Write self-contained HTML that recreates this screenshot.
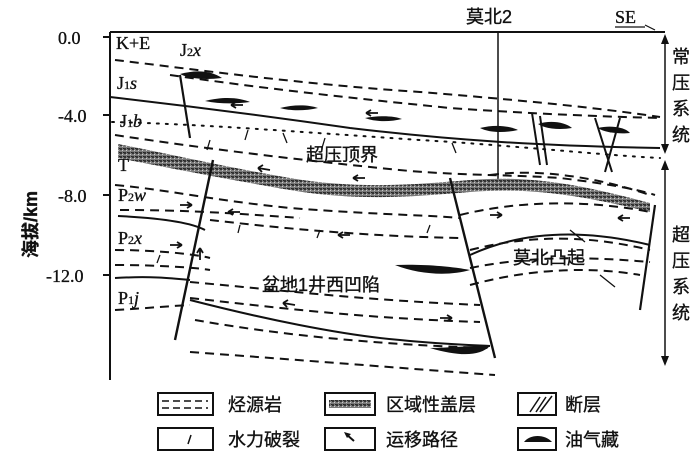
<!DOCTYPE html>
<html><head><meta charset="utf-8"><style>
html,body{margin:0;padding:0;background:#fff;}
svg{display:block;}
text{font-family:"Liberation Serif","Noto Serif CJK SC",serif;fill:#111;stroke:#111;stroke-width:0.35;}
.cj{font-family:"Liberation Sans","Noto Sans CJK SC",sans-serif;}
</style></head><body>
<svg width="700" height="469" viewBox="0 0 700 469" xmlns="http://www.w3.org/2000/svg">
<defs>
<pattern id="gr" width="4" height="4" patternUnits="userSpaceOnUse">
<rect width="4" height="4" fill="#7a7a7a"/><rect width="2" height="2" fill="#333"/><rect x="2" y="2" width="1" height="1" fill="#ccc"/><rect x="3" y="0" width="1" height="1" fill="#222"/>
</pattern>
</defs>
<g stroke="#111" fill="none" stroke-width="2">
<line x1="110" y1="32" x2="665" y2="32"/>
<line x1="110" y1="32" x2="110" y2="380"/>
<line x1="103" y1="37" x2="110" y2="37"/>
<line x1="103" y1="115" x2="110" y2="115"/>
<line x1="103" y1="195" x2="110" y2="195"/>
<line x1="103" y1="275" x2="110" y2="275"/>
<line x1="498" y1="32" x2="498" y2="180" stroke-width="1.5"/>
<line x1="665" y1="38" x2="665" y2="150" stroke-width="1.5"/>
<line x1="665" y1="165" x2="665" y2="360" stroke-width="1.5"/>
</g>
<g fill="#111">
<polygon points="665,34 661,44 669,44"/><polygon points="665,154 661,144 669,144"/>
<polygon points="665,160 661,170 669,170"/><polygon points="665,366 661,356 669,356"/>
</g>
<path d="M118,144 C170,154 220,166 290,178 C360,190 420,184 470,180 C540,174 600,190 650,203 L650,212 C600,200 540,186 470,192 C420,196 360,202 290,190 C220,178 170,168 118,158 Z" fill="url(#gr)"/>
<g stroke="#111" fill="none" stroke-width="2" stroke-dasharray="9,6">
<path d="M115,60 C200,70 300,84 420,92 C520,100 600,108 660,117"/>
<path d="M170,75 C260,88 350,98 450,108 C550,115 620,117 660,118"/>
<path d="M115,135 C200,148 300,160 380,168 C450,176 500,174 560,178 C610,184 640,190 655,195"/>
<path d="M490,175 C540,168 600,178 650,195"/>
<path d="M115,185 C170,190 210,200 290,208 C380,215 430,215 460,218"/>
<path d="M120,210 C180,210 215,212 300,218"/>
<path d="M210,220 C280,228 360,236 460,238"/>
<path d="M460,215 C520,200 590,200 650,212"/>
<path d="M115,250 C160,250 200,255 210,258"/>
<path d="M115,265 C160,265 200,268 210,270"/>
<path d="M470,250 C540,232 600,238 650,250"/>
<path d="M470,268 C540,254 600,258 650,262"/>
<path d="M470,285 C540,266 600,268 640,275"/>
<path d="M190,282 C280,290 360,300 480,305"/>
<path d="M190,298 C280,308 360,318 480,322"/>
<path d="M115,310 C150,308 170,306 190,305"/>
<path d="M195,320 C280,335 380,345 490,348"/>
<path d="M190,352 C300,360 400,368 495,375"/>
</g>
<g stroke="#111" fill="none" stroke-width="2" stroke-dasharray="2,7" stroke-linecap="round">
<path d="M112,122 C200,124 300,132 420,140 C520,146 600,155 660,158"/>
</g>
<g stroke="#111" fill="none" stroke-width="2">
<path d="M110,97 C180,105 260,115 350,128 C450,140 540,146 660,148"/>
<path d="M118,216 C160,218 190,222 205,230"/>
<path d="M115,278 C150,276 170,278 190,280"/>
<path d="M190,300 C260,318 340,335 400,340 C440,344 470,345 490,346"/>
<path d="M470,255 C520,232 580,228 650,245"/>
<path d="M213,160 L175,340" stroke-width="2.4"/>
<path d="M450,178 L495,358" stroke-width="2.4"/>
<path d="M655,205 L640,310" stroke-width="2.2"/>
<path d="M532,113 L540,165"/><path d="M540,116 L547,165"/>
<path d="M595,118 L612,172"/><path d="M620,118 L605,172"/>
<path d="M180,75 L190,138" stroke-width="2.2"/>
</g>
<g fill="#111">
<path d="M180,74 C195,70 210,70 222,78 C205,80 190,79 180,74Z"/>
<path d="M205,101 C225,96 240,98 250,102 C235,104 220,104 205,101Z"/>
<path d="M280,108 C295,104 310,105 318,108 C305,111 290,111 280,108Z"/>
<path d="M365,118 C380,115 395,116 402,119 C390,122 375,122 365,118Z"/>
<path d="M480,128 C495,124 510,126 518,130 C505,133 490,133 480,128Z"/>
<path d="M538,124 C550,120 565,122 572,128 C560,130 545,129 538,124Z"/>
<path d="M598,128 C610,125 625,127 630,133 C620,134 605,133 598,128Z"/>
<path d="M395,265 C420,264 450,266 470,270 C450,276 420,275 395,265Z"/>
<path d="M430,348 C450,348 475,345 490,346 C480,356 460,357 430,348Z"/>
</g>
<g stroke="#111" stroke-width="1.8" fill="none">
<path d="M243,105 l-12,0 m0,0 l5,-3 m-5,3 l5,3"/>
<path d="M378,113 l-12,0 m0,0 l5,-3 m-5,3 l5,3"/>
<path d="M270,170 l-12,-2 m0,0 l5,-3 m-5,3 l4,4"/>
<path d="M365,178 l-12,0 m0,0 l5,-3 m-5,3 l5,3"/>
<path d="M180,205 l12,0 m0,0 l-5,-3 m5,3 l-5,3"/>
<path d="M240,212 l-12,0 m0,0 l5,-3 m-5,3 l5,3"/>
<path d="M170,245 l12,0 m0,0 l-5,-3 m5,3 l-5,3"/>
<path d="M350,235 l-12,0 m0,0 l5,-3 m-5,3 l5,3"/>
<path d="M490,215 l12,0 m0,0 l-5,-3 m5,3 l-5,3"/>
<path d="M630,218 l-12,0 m0,0 l5,-3 m-5,3 l5,3"/>
<path d="M295,305 l-12,-2 m0,0 l5,-3 m-5,3 l4,4"/>
<path d="M440,318 l12,0 m0,0 l-5,-3 m5,3 l-5,3"/>
<path d="M200,260 l0,-12 m0,0 l-3,5 m3,-5 l3,5"/>
</g>
<g stroke="#111" stroke-width="1.3" fill="none">
<path d="M210,140 l-3,10"/><path d="M248,130 l-3,10"/><path d="M283,133 l4,10"/>
<path d="M325,138 l-3,10"/><path d="M452,143 l4,10"/>
<path d="M240,225 l-2,8"/><path d="M320,230 l-3,8"/><path d="M430,225 l-3,8"/>
<path d="M160,255 l-3,8"/><path d="M570,230 l15,12"/><path d="M600,275 l15,12"/>
</g>
<g font-size="18">
<text x="58" y="44">0.0</text>
<text x="58" y="122">-4.0</text>
<text x="58" y="202">-8.0</text>
<text x="46" y="282">-12.0</text>
<text x="116" y="49">K+E</text>
<text x="180" y="56">J<tspan font-size="12">2</tspan><tspan font-style="italic">x</tspan></text>
<text x="117" y="89">J<tspan font-size="12">1</tspan><tspan font-style="italic">s</tspan></text>
<text x="120" y="127">J<tspan font-size="12">1</tspan><tspan font-style="italic">b</tspan></text>
<text x="118" y="171">T</text>
<text x="118" y="201">P<tspan font-size="12">2</tspan><tspan font-style="italic">w</tspan></text>
<text x="118" y="244">P<tspan font-size="12">2</tspan><tspan font-style="italic">x</tspan></text>
<text x="118" y="304">P<tspan font-size="12">1</tspan><tspan font-style="italic">j</tspan></text>
<text x="615" y="23">SE</text>
</g>
<line x1="615" y1="27" x2="645" y2="27" stroke="#111" stroke-width="1.2"/>
<line x1="645" y1="25" x2="655" y2="30" stroke="#111" stroke-width="1.2"/>
<g font-size="18">
<text class="cj" x="466" y="23">莫北2</text>
<text class="cj" x="306" y="161">超压顶界</text>
<text class="cj" x="262" y="291">盆地1井西凹陷</text>
<text class="cj" x="513" y="264">莫北凸起</text>
<text class="cj" x="672" y="63">常</text><text class="cj" x="672" y="89">压</text><text class="cj" x="672" y="115">系</text><text class="cj" x="672" y="141">统</text>
<text class="cj" x="672" y="241">超</text><text class="cj" x="672" y="267">压</text><text class="cj" x="672" y="293">系</text><text class="cj" x="672" y="319">统</text>
<text class="cj" transform="translate(37,258) rotate(-90)" font-weight="bold">海拔/km</text>
</g>
<g stroke="#111" fill="none" stroke-width="2">
<rect x="158" y="393" width="55" height="22"/>
<rect x="325" y="393" width="50" height="22"/>
<rect x="518" y="393" width="38" height="22"/>
<rect x="158" y="428" width="55" height="22"/>
<rect x="325" y="428" width="50" height="22"/>
<rect x="518" y="428" width="38" height="22"/>
<path d="M162,401 h46 M162,408 h46" stroke-dasharray="7,4" stroke-width="1.5"/>
<path d="M530,412 l10,-15 M536,412 l10,-15 M540,412 l12,-16" stroke-width="1.5"/>
<path d="M188,444 l3,-9" stroke-width="1.5"/>
</g>
<rect x="329" y="400" width="42" height="8" fill="url(#gr)"/>
<path d="M346,434 l8,7" stroke="#111" stroke-width="2"/><polygon points="344,432 351,434 347,438" fill="#111"/>
<path d="M524,442 C530,434 545,434 552,442 Z" fill="#111"/>
<g font-size="18">
<text class="cj" x="228" y="411">烃源岩</text>
<text class="cj" x="386" y="411">区域性盖层</text>
<text class="cj" x="565" y="411">断层</text>
<text class="cj" x="228" y="446">水力破裂</text>
<text class="cj" x="386" y="446">运移路径</text>
<text class="cj" x="565" y="446">油气藏</text>
</g>
</svg>
</body></html>
